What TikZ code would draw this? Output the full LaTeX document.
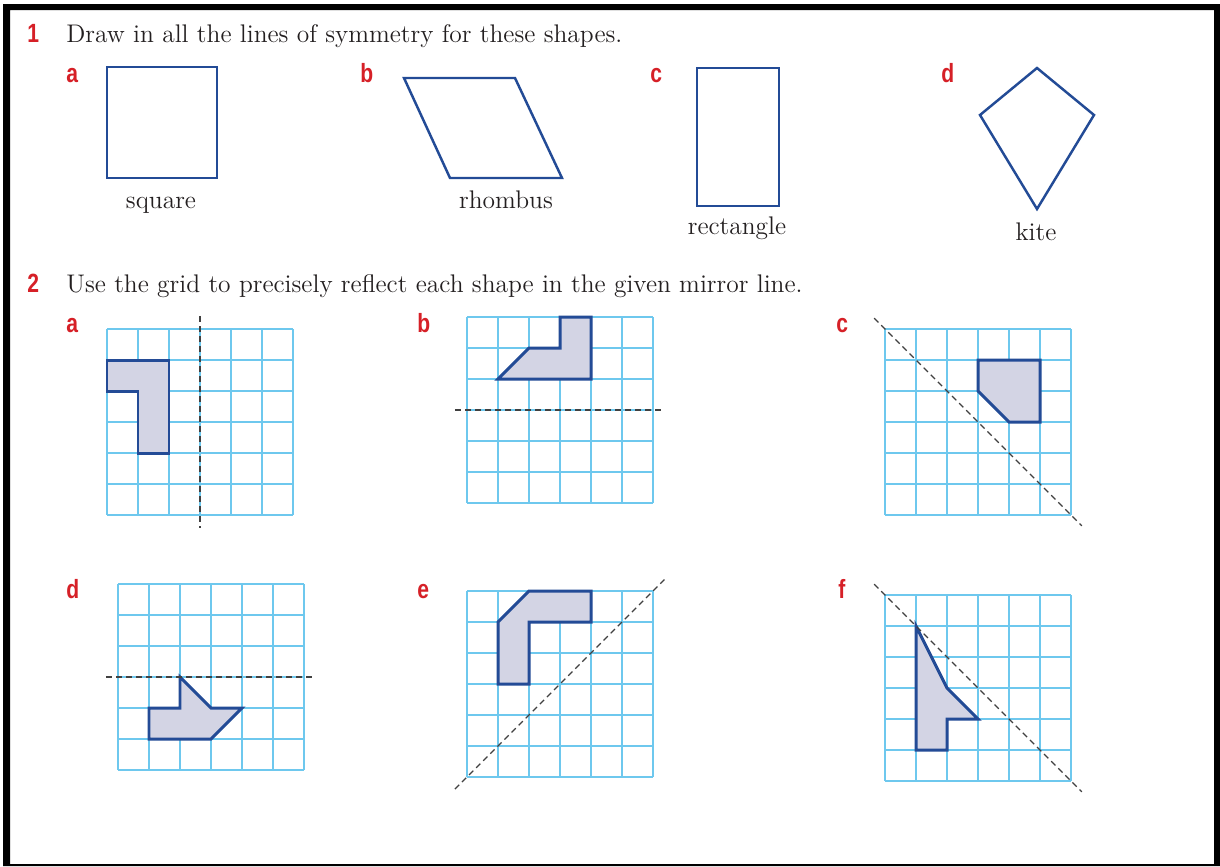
\documentclass[tikz,border=0pt]{standalone}
\usepackage{fontspec}
\setsansfont{Liberation Sans}
\usepackage{graphicx}
\definecolor{wsred}{RGB}{214,32,39}
\definecolor{wsblue}{RGB}{35,75,150}
\definecolor{wscyan}{RGB}{110,200,238}
\definecolor{wslilac}{RGB}{211,212,228}
\definecolor{wsink}{RGB}{35,31,32}
\tikzset{
  wstxt/.style = {font=\fontsize{14.5}{17}\selectfont, text=wsink,
    inner sep=0pt, anchor=base west},
  wsname/.style = {font=\fontsize{14.5}{17}\selectfont, text=wsink,
    inner sep=0pt, anchor=base},
  wsnum/.style = {font=\fontsize{15}{18}\selectfont\sffamily\bfseries,
    text=wsred, inner sep=0pt, anchor=base west},
  wsform/.style = {draw=wsblue, line width=1.4pt},
  wsgrid/.style = {draw=wscyan, line width=0.8pt},
  wsfig/.style = {draw=wsblue, fill=wslilac, line width=1.7pt},
  wsmir/.style = {draw=black!75, line width=0.7pt, dash pattern=on 3.4pt off 2.3pt}
}
\newcommand{\wsN}[1]{\scalebox{0.8}[1]{#1}}
\newcommand{\wsGrid}{\foreach \k in {0,...,6} {\draw [wsgrid] (\k,0) -- (\k,6);
  \draw [wsgrid] (0,\k) -- (6,\k);}}

\begin{document}
\begin{tikzpicture}[x=0.02cm, y=-0.02cm]
  \useasboundingbox [fill=white] (0,0) rectangle (1220,866);
  \fill [black, even odd rule] (3,4) rectangle (1220,866) (10,10) rectangle (1214,864);
  % question 1
  \node [wsnum] (q1) at (27,42) {\wsN{1}};
  \node [wstxt] (t1) at (66,42) {Draw in all the lines of symmetry for these shapes.};
  \node [wsnum] (l1a) at (66,82) {\wsN{a}};
  \node [wsnum] (l1b) at (360,82) {\wsN{b}};
  \node [wsnum] (l1c) at (650,82) {\wsN{c}};
  \node [wsnum] (l1d) at (941,82) {\wsN{d}};
  \draw [wsform] (107,67) rectangle (217,178);
  \node [wsname] (n1a) at (161,208) {square};
  \draw [wsform] (404,78) -- (515,78) -- (562,178) -- (450,178) -- cycle;
  \node [wsname] (n1b) at (506,208) {rhombus};
  \draw [wsform] (697,68) rectangle (779,206);
  \node [wsname] (n1c) at (737,234) {rectangle};
  \draw [wsform] (1037,68) -- (1094,115) -- (1037,209) -- (980,115) -- cycle;
  \node [wsname] (n1d) at (1036,240) {kite};
  % question 2
  \node [wsnum] (q2) at (27,292) {\wsN{2}};
  \node [wstxt] (t2) at (66,292) {Use the grid to precisely reflect each shape in the given mirror line.};
  \node [wsnum] (l2a) at (66,332) {\wsN{a}};
  \node [wsnum] (l2b) at (417,332) {\wsN{b}};
  \node [wsnum] (l2c) at (836,332) {\wsN{c}};
  \node [wsnum] (l2d) at (66,598) {\wsN{d}};
  \node [wsnum] (l2e) at (417,598) {\wsN{e}};
  \node [wsnum] (l2f) at (838,598) {\wsN{f}};
  \begin{scope}[shift={(107,329)}, scale=31]
    \wsGrid
    \draw [wsfig] (0,1) -- (2,1) -- (2,4) -- (1,4) -- (1,2) -- (0,2) -- cycle;
    \draw [wsmir] (3,-0.42) -- (3,6.42);
  \end{scope}
  \begin{scope}[shift={(467,317)}, scale=31]
    \wsGrid
    \draw [wsfig] (1,2) -- (2,1) -- (3,1) -- (3,0) -- (4,0) -- (4,2) -- cycle;
    \draw [wsmir] (-0.39,3) -- (6.39,3);
  \end{scope}
  \begin{scope}[shift={(885,329)}, scale=31]
    \wsGrid
    \draw [wsfig] (3,1) -- (5,1) -- (5,3) -- (4,3) -- (3,2) -- cycle;
    \draw [wsmir] (-0.35,-0.35) -- (6.35,6.35);
  \end{scope}
  \begin{scope}[shift={(118,584)}, scale=31]
    \wsGrid
    \draw [wsfig] (1,4) -- (2,4) -- (2,3) -- (3,4) -- (4,4) -- (3,5) -- (1,5) -- cycle;
    \draw [wsmir] (-0.39,3) -- (6.39,3);
  \end{scope}
  \begin{scope}[shift={(467,591)}, scale=31]
    \wsGrid
    \draw [wsfig] (1,1) -- (2,0) -- (4,0) -- (4,1) -- (2,1) -- (2,3) -- (1,3) -- cycle;
    \draw [wsmir] (-0.39,6.39) -- (6.39,-0.39);
  \end{scope}
  \begin{scope}[shift={(885,595)}, scale=31]
    \wsGrid
    \draw [wsfig] (1,1) -- (2,3) -- (3,4) -- (2,4) -- (2,5) -- (1,5) -- cycle;
    \draw [wsmir] (-0.35,-0.35) -- (6.35,6.35);
  \end{scope}
\end{tikzpicture}
\end{document}
